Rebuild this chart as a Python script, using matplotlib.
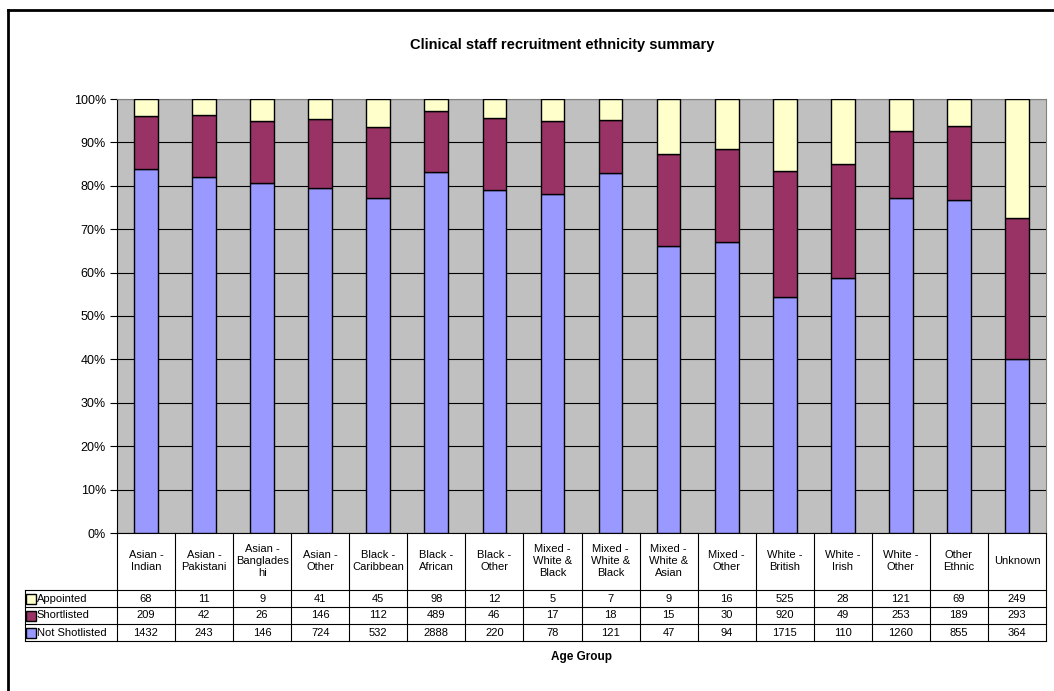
import matplotlib
matplotlib.use("Agg")
import matplotlib.pyplot as plt
import matplotlib.transforms as mtransforms
import numpy as np

plt.rcParams['font.family'] = ['Liberation Sans', 'DejaVu Sans']

#Dados do gráfico:
categories = ["Asian -\nIndian", "Asian -\nPakistani", "Asian -\nBanglades\nhi", "Asian -\nOther",
              "Black -\nCaribbean", "Black -\nAfrican", "Black -\nOther", "Mixed -\nWhite &\nBlack",
              "Mixed -\nWhite &\nBlack", "Mixed -\nWhite &\nAsian", "Mixed -\nOther", "White -\nBritish",
              "White -\nIrish", "White -\nOther", "Other\nEthnic", "Unknown"]
appointed = [68, 11, 9, 41, 45, 98, 12, 5, 7, 9, 16, 525, 28, 121, 69, 249]
shortlisted = [209, 42, 26, 146, 112, 489, 46, 17, 18, 15, 30, 920, 49, 253, 189, 293]
not_shortlisted = [1432, 243, 146, 724, 532, 2888, 220, 78, 121, 47, 94, 1715, 110, 1260, 855, 364]

series_names = ["Appointed", "Shortlisted", "Not Shotlisted"]
series_vals = [appointed, shortlisted, not_shortlisted]
colors = ["#FFFFCC", "#993366", "#9999FF"]

W, H = 1054, 691
fig = plt.figure(figsize=(W/100, H/100), dpi=100)

#posição da área do gráfico (pixels)
left_px, right_px, top_px, bot_px = 117, 1046, 99, 533
ax = fig.add_axes([left_px/W, 1-bot_px/H, (right_px-left_px)/W, (bot_px-top_px)/H])
ax.set_facecolor("#C0C0C0")

n = len(categories)
x = np.arange(n)
ns = np.array(not_shortlisted, float)
sh = np.array(shortlisted, float)
ap = np.array(appointed, float)
tot = ns + sh + ap
p_ns = ns/tot*100
p_sh = sh/tot*100
p_ap = ap/tot*100

bw = 0.41
ax.bar(x, p_ns, bw, color=colors[2], edgecolor="black", linewidth=1, zorder=3)
ax.bar(x, p_sh, bw, bottom=p_ns, color=colors[1], edgecolor="black", linewidth=1, zorder=3)
ax.bar(x, p_ap, bw, bottom=p_ns+p_sh, color=colors[0], edgecolor="black", linewidth=1, zorder=3)

ax.set_xlim(-0.5, n-0.5)
ax.set_ylim(0, 100)
ax.set_yticks(np.arange(0, 101, 10))
ax.set_yticklabels([f"{v}%" for v in range(0, 101, 10)], fontsize=9)
ax.yaxis.grid(True, color="black", linewidth=0.8, zorder=1)
ax.set_xticks([])
ax.tick_params(axis="y", direction="out", length=5, width=0.8, pad=3)
for s in ["top", "right"]:
    ax.spines[s].set_color("#808080")
ax.spines["left"].set_color("black")
ax.spines["bottom"].set_color("black")

#Tabela de dados:
trans = mtransforms.blended_transform_factory(ax.transData, ax.transAxes)
ph = bot_px - top_px
def yax(px):
    return (bot_px - px)/ph
unit = (right_px-left_px)/n
leg_left = -0.5 - (left_px-25)/unit

header_bot = 590
row_h = 17
row_lines = [header_bot + i*row_h for i in range(4)]

lw = 0.8
#linhas verticais
for i in range(n+1):
    ax.plot([i-0.5, i-0.5], [yax(bot_px), yax(row_lines[-1])], color="black", lw=lw,
            transform=trans, clip_on=False)
ax.plot([leg_left, leg_left], [yax(row_lines[0]), yax(row_lines[-1])], color="black", lw=lw,
        transform=trans, clip_on=False)
#linhas horizontais
for yl in row_lines:
    ax.plot([leg_left, n-0.5], [yax(yl), yax(yl)], color="black", lw=lw,
            transform=trans, clip_on=False)

#cabeçalho
for i, c in enumerate(categories):
    ax.text(i, yax((bot_px+header_bot)/2), c, ha="center", va="center", fontsize=8,
            linespacing=1.25, transform=trans, clip_on=False)

#linhas da tabela
for r, (name, vals, col) in enumerate(zip(series_names, series_vals, colors)):
    yc = yax(row_lines[r] + row_h/2)
    ax.plot([leg_left + 0.1], [yc], marker="s", ms=6.5, mfc=col, mec="black", mew=1,
            transform=trans, clip_on=False, linestyle="none")
    ax.text(leg_left + 0.2, yc, name, ha="left", va="center", fontsize=8,
            transform=trans, clip_on=False)
    for i, v in enumerate(vals):
        ax.text(i, yc, str(v), ha="center", va="center", fontsize=8,
                transform=trans, clip_on=False)

ax.text((n-1)/2, yax(657), "Age Group", ha="center", va="center", fontsize=8.5,
        fontweight="bold", transform=trans, clip_on=False)

fig.text(562/W, 1-45/H, "Clinical staff recruitment ethnicity summary", ha="center",
         va="center", fontsize=10.5, fontweight="bold")

#moldura do gráfico
fig.add_artist(plt.Line2D([8/W, 8/W], [0, 1-10/H], color="black", lw=2))
fig.add_artist(plt.Line2D([8/W, 1], [1-10/H, 1-10/H], color="black", lw=2))

fig.savefig("out.png", dpi=100)
